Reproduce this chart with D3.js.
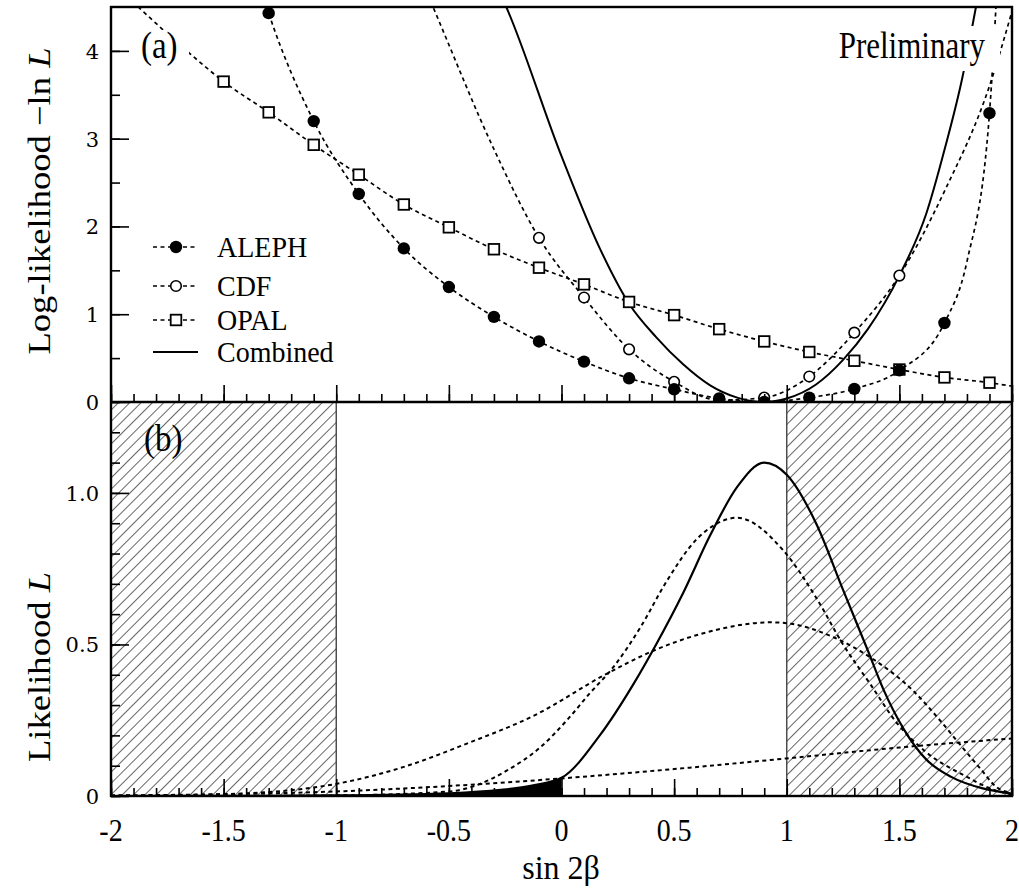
<!DOCTYPE html>
<html>
<head>
<meta charset="utf-8">
<script src="https://cdn.jsdelivr.net/npm/d3@7"></script>
<style>
  body { margin: 0; background: #fff; }
  text { font-family: "Liberation Serif", "Times New Roman", serif; fill: #000; }
</style>
</head>
<body>
<div id="chart"></div>
<script>
// panel (a): -ln L, markers
const alephX   = [-1.3, -1.1, -0.9, -0.7, -0.5, -0.3, -0.1, 0.1, 0.3, 0.5, 0.7, 0.9, 1.1, 1.3, 1.5, 1.7, 1.9]
const alephLnL = [4.43, 3.20, 2.37, 1.75, 1.31, 0.97, 0.69, 0.46, 0.27, 0.145, 0.04, 0.0, 0.05, 0.15, 0.36, 0.90, 3.29]
const cdfX     = [-0.1, 0.1, 0.3, 0.5, 0.7, 0.9, 1.1, 1.3, 1.5]
const cdfLnL   = [1.87, 1.19, 0.60, 0.23, 0.02, 0.05, 0.29, 0.79, 1.44]
const opalX    = [-1.5, -1.3, -1.1, -0.9, -0.7, -0.5, -0.3, -0.1, 0.1, 0.3, 0.5, 0.7, 0.9, 1.1, 1.3, 1.5, 1.7, 1.9]
const opalLnL  = [3.65, 3.30, 2.93, 2.59, 2.25, 1.99, 1.74, 1.53, 1.34, 1.14, 0.99, 0.83, 0.69, 0.57, 0.47, 0.37, 0.28, 0.22]

// panel (a): extra points where the fitted curves run past the markers
const alephTailX   = [-1.34, 1.8, 1.935]
const alephTailLnL = [4.75, 1.6, 4.8]
const cdfTailX     = [-0.62, -0.567, -0.3, 1.7, 1.9, 2.0]
const cdfTailLnL   = [4.8, 4.48, 2.88, 2.4, 3.6, 4.45]
const opalTailX    = [-2.0, -1.87, -1.65, 2.0]
const opalTailLnL  = [4.8, 4.48, 3.97, 0.18]

const combX   = [-0.28, -0.245, 0, 0.17, 0.3, 0.42, 0.54, 0.66, 0.78, 0.9, 1.0, 1.13, 1.25, 1.36, 1.5, 1.62, 1.7, 1.78, 1.84, 1.87]
const combLnL = [4.7, 4.5, 2.8, 1.75, 1.12, 0.74, 0.43, 0.19, 0.05, 0.0, 0.04, 0.2, 0.48, 0.83, 1.44, 2.15, 2.87, 3.7, 4.5, 4.9]

// panel (b): likelihood curves
const alephLX = [-2, -1.5, -1, -0.7, -0.42, -0.12, 0.2, 0.41, 0.62, 0.93, 1.02, 1.21, 1.37, 1.56, 1.68, 1.78, 1.86, 1.93, 2.0]
const alephL  = [0.0005, 0.006, 0.04, 0.096, 0.173, 0.266, 0.403, 0.48, 0.535, 0.573, 0.568, 0.523, 0.458, 0.348, 0.25, 0.16, 0.09, 0.03, 0.01]
const cdfLX   = [-2, -1, -0.5, -0.376, -0.24, -0.095, 0.024, 0.127, 0.23, 0.35, 0.468, 0.6, 0.66, 0.778, 0.985, 1.13, 1.25, 1.37, 1.49, 1.61, 1.8, 1.92, 2.0]
const cdfL    = [0, 0.002, 0.015, 0.036, 0.085, 0.16, 0.25, 0.34, 0.425, 0.556, 0.71, 0.847, 0.885, 0.918, 0.81, 0.655, 0.5, 0.37, 0.24, 0.15, 0.063, 0.02, 0.005]
const opalLX  = [-2, -1.5, -1, -0.5, 0, 0.5, 1, 1.5, 2]
const opalL   = [0.002, 0.006, 0.015, 0.033, 0.058, 0.089, 0.124, 0.16, 0.19]
const combLX  = [-2, -1.5, -1, -0.5, -0.27, -0.12, 0, 0.17, 0.32, 0.42, 0.54, 0.66, 0.78, 0.9, 1.0, 1.13, 1.25, 1.36, 1.43, 1.52, 1.62, 1.73, 1.87, 2.0]
const combL   = [0, 0.0005, 0.002, 0.009, 0.02, 0.036, 0.06, 0.2, 0.37, 0.5, 0.67, 0.86, 1.02, 1.10, 1.06, 0.9, 0.68, 0.48, 0.35, 0.22, 0.12, 0.063, 0.025, 0.008]

const xTickLabels  = ["-2", "-1.5", "-1", "-0.5", "0", "0.5", "1", "1.5", "2"]
const yaTickLabels = ["0", "1", "2", "3", "4"]
const ybTicks      = [0, 0.5, 1.0]
const ybTickLabels = ["0", "0.5", "1.0"]
const hatchRanges  = [[-2, -1], [1, 2]]
const legendNames  = ["ALEPH", "CDF", "OPAL", "Combined"]

const width = 1019, height = 890
const pLeft = 111, pRight = 1012, pTop = 7, pMid = 402, pBottom = 796
const STRETCH = 1.12   // the original figure is drawn a bit tall

const x  = d3.scaleLinear().domain([-2, 2]).range([pLeft, pRight])
const ya = d3.scaleLinear().domain([0, 4.5]).range([pMid, pTop])
const yb = d3.scaleLinear().domain([0, 1.3]).range([pBottom, pMid])

const svg = d3.select("#chart").append("svg")
  .attr("width", width).attr("height", height)
  .attr("viewBox", [0, 0, width, height])

const defs = svg.append("defs")
defs.append("clipPath").attr("id", "clipA").append("rect")
  .attr("x", pLeft).attr("y", pTop).attr("width", pRight - pLeft).attr("height", pMid - pTop)
defs.append("clipPath").attr("id", "clipB").append("rect")
  .attr("x", pLeft).attr("y", pMid).attr("width", pRight - pLeft).attr("height", pBottom - pMid)
const pat = defs.append("pattern").attr("id", "hatch")
  .attr("patternUnits", "userSpaceOnUse").attr("width", 8).attr("height", 8)
  .attr("patternTransform", "rotate(45)")
pat.append("line").attr("x1", 0).attr("y1", 0).attr("x2", 0).attr("y2", 8)
  .attr("stroke", "#000").attr("stroke-width", 1.2)

function zip(xs, ys) { return xs.map((v, i) => [v, ys[i]]) }
function curvePts(xs, ys, tx, ty) {
  return zip(xs, ys).concat(zip(tx, ty)).sort((a, b) => a[0] - b[0])
}
function txt(g, px, py, str, size, anchor, sy) {
  return g.append("text")
    .attr("transform", `translate(${px},${py}) scale(1,${sy || STRETCH})`)
    .attr("text-anchor", anchor || "start")
    .style("font-size", size + "px")
    .text(str)
}

const lineA = d3.line().x(d => x(d[0])).y(d => ya(d[1])).curve(d3.curveMonotoneX)
const lineB = d3.line().x(d => x(d[0])).y(d => yb(d[1])).curve(d3.curveMonotoneX)

// ---------- panel (b) background: hatched physical-boundary regions
const gb = svg.append("g").attr("clip-path", "url(#clipB)")
hatchRanges.forEach(r => {
  gb.append("rect").attr("x", x(r[0])).attr("y", pMid)
    .attr("width", x(r[1]) - x(r[0])).attr("height", pBottom - pMid)
    .attr("fill", "url(#hatch)")
})
;[-1, 1].forEach(v => {
  gb.append("line").attr("x1", x(v)).attr("x2", x(v)).attr("y1", pMid).attr("y2", pBottom)
    .attr("stroke", "#444").attr("stroke-width", 1.4)
})

// black area: combined likelihood below sin2b = 0
const combPts = zip(combLX, combL)
gb.append("path")
  .datum(combPts.filter(d => d[0] <= 0))
  .attr("d", d3.area().x(d => x(d[0])).y0(yb(0)).y1(d => yb(d[1])).curve(d3.curveMonotoneX))
  .attr("fill", "#000")

;[zip(alephLX, alephL), zip(cdfLX, cdfL), zip(opalLX, opalL)].forEach(pts => {
  gb.append("path").datum(pts).attr("d", lineB)
    .attr("fill", "none").attr("stroke", "#000").attr("stroke-width", 2)
    .attr("stroke-dasharray", "4,3.5")
})
gb.append("path").datum(combPts).attr("d", lineB)
  .attr("fill", "none").attr("stroke", "#000").attr("stroke-width", 2.2)

// ---------- panel (a)
const ga = svg.append("g").attr("clip-path", "url(#clipA)")
const seriesA = [
  { pts: curvePts(alephX, alephLnL, alephTailX, alephTailLnL), mk: zip(alephX, alephLnL), type: "filled" },
  { pts: curvePts(cdfX, cdfLnL, cdfTailX, cdfTailLnL), mk: zip(cdfX, cdfLnL), type: "open" },
  { pts: curvePts(opalX, opalLnL, opalTailX, opalTailLnL), mk: zip(opalX, opalLnL), type: "square" }
]
seriesA.forEach(s => {
  ga.append("path").datum(s.pts).attr("d", lineA)
    .attr("fill", "none").attr("stroke", "#000").attr("stroke-width", 1.7)
    .attr("stroke-dasharray", "4,3.5")
})
ga.append("path").datum(zip(combX, combLnL)).attr("d", lineA)
  .attr("fill", "none").attr("stroke", "#000").attr("stroke-width", 2)

function marker(g, px, py, type) {
  if (type === "filled") {
    g.append("circle").attr("cx", px).attr("cy", py).attr("r", 6.2).attr("fill", "#000")
  } else if (type === "open") {
    g.append("circle").attr("cx", px).attr("cy", py).attr("r", 5.3)
      .attr("fill", "#fff").attr("stroke", "#000").attr("stroke-width", 1.6)
  } else {
    g.append("rect").attr("x", px - 5.3).attr("y", py - 5.3).attr("width", 10.6).attr("height", 10.6)
      .attr("fill", "#fff").attr("stroke", "#000").attr("stroke-width", 1.8)
  }
}
// open markers first, filled dots on top
;[seriesA[2], seriesA[1], seriesA[0]].forEach(s => {
  s.mk.forEach(d => marker(ga, x(d[0]), ya(d[1]), s.type))
})

// labels with white boxes knocking out the curves
svg.append("rect").attr("x", 137).attr("y", 30).attr("width", 52).attr("height", 38).attr("fill", "#fff")
txt(svg, 141, 58, "(a)", 33)
svg.append("rect").attr("x", 836).attr("y", 26).attr("width", 164).attr("height", 45).attr("fill", "#fff")
txt(svg, 985, 58, "Preliminary", 31, "end", 1.2)
txt(svg, 144, 451, "(b)", 33)

// legend
const legY = [247, 286, 320, 352]
const legTypes = ["filled", "open", "square", "solid"]
legendNames.forEach((name, i) => {
  const ly = legY[i]
  svg.append("line").attr("x1", 153).attr("x2", 198).attr("y1", ly).attr("y2", ly)
    .attr("stroke", "#000").attr("stroke-width", legTypes[i] === "solid" ? 2 : 1.7)
    .attr("stroke-dasharray", legTypes[i] === "solid" ? null : "4,3.5")
  if (legTypes[i] !== "solid") marker(svg, 176, ly, legTypes[i])
  txt(svg, 217, ly + 10, name, 28, "start", 1.05)
})

// ---------- frame and ticks
const frame = svg.append("g").attr("fill", "none").attr("stroke", "#000")
frame.append("rect").attr("x", pLeft).attr("y", pTop).attr("width", pRight - pLeft).attr("height", pBottom - pTop)
  .attr("stroke-width", 2.4)
frame.append("line").attr("x1", pLeft).attr("x2", pRight).attr("y1", pMid).attr("y2", pMid)
  .attr("stroke-width", 2.6)

function ticks(axis, tx, ty) {
  const g = svg.append("g").attr("transform", `translate(${tx},${ty})`).call(axis)
  g.select(".domain").remove()
  g.selectAll(".tick line").attr("stroke", "#000").attr("stroke-width", 1.6)
  return g
}
const xMinor = d3.range(-20, 21).map(i => i / 10)
const xMajor = d3.range(-4, 5).map(i => i / 2)
;[pMid, pBottom].forEach(yy => {
  ticks(d3.axisBottom(x).tickValues(xMinor).tickSize(-8).tickFormat(""), 0, yy)
  ticks(d3.axisBottom(x).tickValues(xMajor).tickSize(-17).tickFormat(""), 0, yy)
})
ticks(d3.axisLeft(ya).tickValues(d3.range(0, 9).map(i => i / 2)).tickSize(-9).tickFormat(""), pLeft, 0)
ticks(d3.axisLeft(ya).tickValues([0, 1, 2, 3, 4]).tickSize(-18).tickFormat(""), pLeft, 0)
ticks(d3.axisLeft(yb).tickValues(d3.range(0, 13).map(i => i / 10)).tickSize(-9).tickFormat(""), pLeft, 0)
ticks(d3.axisLeft(yb).tickValues(ybTicks).tickSize(-18).tickFormat(""), pLeft, 0)

// tick labels
xMajor.forEach((v, i) => txt(svg, x(v), 841, xTickLabels[i], 28, "middle", 1.1))
yaTickLabels.forEach(s => {
  svg.append("text").attr("x", 99).attr("y", ya(+s) + 8).attr("text-anchor", "end")
    .style("font-family", "'DejaVu Serif', serif").style("font-size", "21px").text(s)
})
ybTicks.forEach((v, i) => {
  svg.append("text").attr("x", 99).attr("y", yb(v) + 8).attr("text-anchor", "end")
    .style("font-family", "'DejaVu Serif', serif").style("font-size", "21px").text(ybTickLabels[i])
})

// axis titles
txt(svg, 561, 879, "sin 2β", 32, "middle", 1.05)
function vtitle(px, py, parts) {
  const t = svg.append("text")
    .attr("transform", `translate(${px},${py}) rotate(-90) scale(1.18,1)`)
    .attr("text-anchor", "middle").style("font-size", "31px")
  parts.forEach(p => t.append("tspan").style("font-style", p[1] ? "italic" : "normal").text(p[0]))
}
vtitle(50, 201, [["Log-likelihood  \u2212ln ", false], ["L", true]])
vtitle(50, 667, [["Likelihood  ", false], ["L", true]])
</script>
</body>
</html>
